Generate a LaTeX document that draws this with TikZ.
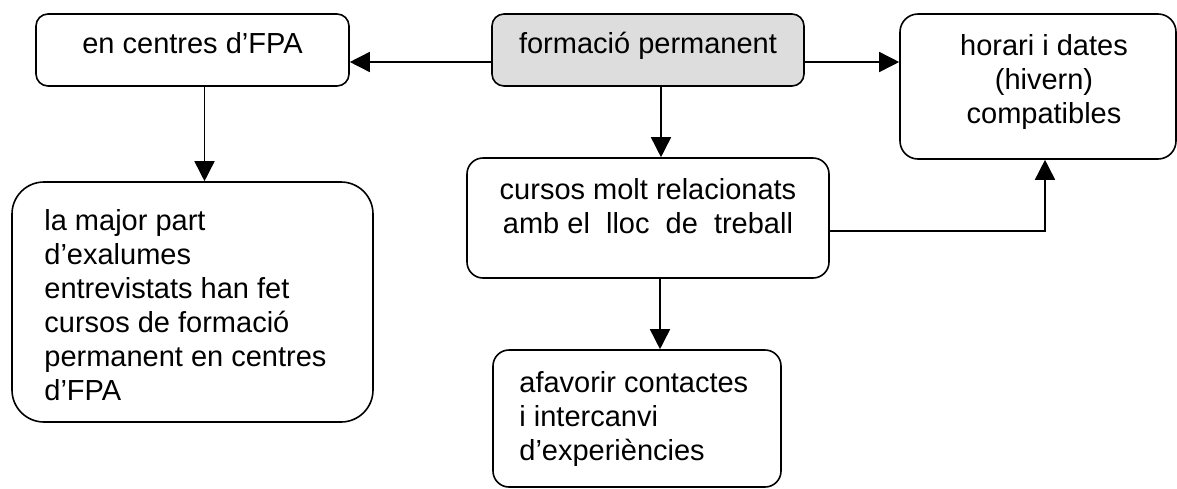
\documentclass[tikz,border=0pt]{standalone}
\usepackage{fontspec}
\setmainfont{Liberation Sans}
\usetikzlibrary{arrows.meta}
\definecolor{boxgray}{RGB}{221,221,221}
\begin{document}
\begin{tikzpicture}[x=0.5pt,y=-0.5pt,
    box/.style={draw,line width=0.8pt,rounded corners=6pt,inner sep=0pt},
    txt/.style={inner sep=0pt,font=\fontsize{14.5}{17}\selectfont},
    arr/.style={line width=0.8pt,-{Triangle[length=10pt,width=10pt]}}]
\useasboundingbox (0,0) rectangle (1177,488);
\node[box,minimum width=156.5pt,minimum height=36pt](fpa) at (192.5,50){};
\node[box,fill=boxgray,minimum width=156pt,minimum height=36pt](formacio) at (648,50){};
\node[box,rounded corners=9pt,minimum width=138pt,minimum height=72.5pt](horari) at (1038,86.5){};
\node[box,rounded corners=8pt,minimum width=181pt,minimum height=60pt](cursos) at (648,218){};
\node[box,rounded corners=16pt,minimum width=180.5pt,minimum height=120pt](major) at (192.5,302){};
\node[box,rounded corners=8pt,minimum width=144pt,minimum height=68.5pt](afavorir) at (637,418.5){};
\node[txt,anchor=base](fpat) at (192.5,53){en centres d’FPA};
\node[txt,anchor=base](formaciot) at (648,53){formació permanent};
\node[txt,anchor=north,align=center](horarit) at (1044,34){horari i dates\\(hivern)\\compatibles};
\node[txt,anchor=north,align=center](cursost) at (648,178){cursos molt relacionats\\amb el\ \ lloc\ \ de\ \ treball};
\node[txt,anchor=north west,align=left](majort) at (44,209){la major part\\d’exalumes\\entrevistats han fet\\cursos de formació\\permanent en centres\\d’FPA};
\node[txt,anchor=north west,align=left](afavorirt) at (519,371){afavorir contactes\\i intercanvi\\d’experiències};
\draw[arr]([yshift=-6pt]formacio.west)--([yshift=-6pt]fpa.east);
\draw[arr]([yshift=-6pt]formacio.east)--([yshift=-6pt]formacio.east -| horari.west);
\draw[arr]([xshift=6pt]fpa.south)--([xshift=6pt]fpa.south |- major.north);
\draw[arr]([xshift=6.5pt]formacio.south)--([xshift=6.5pt]formacio.south |- cursos.north);
\draw[arr]([xshift=6pt]cursos.south)--([xshift=6pt]cursos.south |- afavorir.north);
\draw[arr]([yshift=-6.5pt]cursos.east)-|([xshift=3.5pt]horari.south);
\end{tikzpicture}
\end{document}
